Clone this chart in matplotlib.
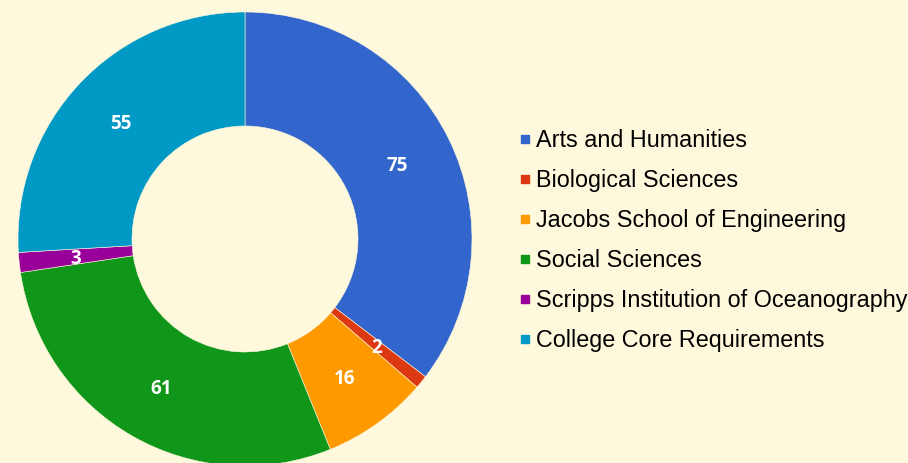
import matplotlib
matplotlib.use('Agg')
from matplotlib import pyplot as plt
from matplotlib.lines import Line2D
import numpy as np

categories = ['Arts and Humanities', 'Biological Sciences', 'Jacobs School of Engineering',
              'Social Sciences', 'Scripps Institution of Oceanography', 'College Core Requirements']
values = [75, 2, 16, 61, 3, 55]
colors = ['#3366CC', '#DC3912', '#FF9900', '#109618', '#990099', '#0099C6']
bg = '#FEF8DD'

W, H = 908, 463
fig = plt.figure(figsize=(W / 100, H / 100), dpi=100)
fig.patch.set_facecolor(bg)

# axes in pixel units, donut centre at (245, 239) from the top
cx, cy, half = 245, 239, 240
ax = fig.add_axes([(cx - half) / W, (H - cy - half) / H, 2 * half / W, 2 * half / H])

R, r = 227, 113
wedges, _ = ax.pie(values, colors=colors, startangle=90, counterclock=False, radius=R,
                   wedgeprops=dict(width=R - r, edgecolor=bg, linewidth=0.4))
# pie() resets the limits, so set them afterwards
ax.set_xlim(-half, half)
ax.set_ylim(-half, half)
ax.set_aspect('equal')
ax.axis('off')

# value labels in the middle of each ring segment
total = sum(values)
cum = np.cumsum([0] + values[:-1])
for v, c in zip(values, cum):
    ang = np.deg2rad(90 - 360 * (c + v / 2) / total)
    rm = (R + r) / 2
    ax.text(rm * np.cos(ang), rm * np.sin(ang) - 2, str(v), color='white', fontsize=13.5,
            fontweight='bold', family='Open Sans', ha='center', va='center')

handles = [Line2D([], [], marker='s', linestyle='none', markersize=6, color=c) for c in colors]
fig.legend(handles, categories, loc='upper left', bbox_to_anchor=(517 / W, 1 - 129 / H),
           frameon=False, prop={'family': 'Liberation Sans', 'size': 16.8},
           labelspacing=0.73, handletextpad=0.1, handlelength=0.7, borderpad=0, borderaxespad=0)

fig.savefig('out.png', dpi=100, facecolor=bg)
